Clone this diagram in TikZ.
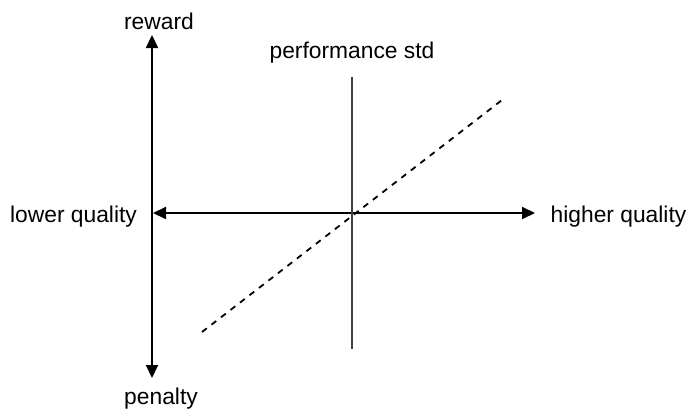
\documentclass[tikz,border=0pt]{standalone}
\usepackage{fontspec}
\setmainfont{Liberation Sans}
\usepackage{tikz}
\usetikzlibrary{arrows.meta, positioning}

\begin{document}
\begin{tikzpicture}[x=0.5pt, y=-0.5pt,
    axis/.style={line width=1pt, {Triangle[length=6.5pt, width=6pt]}-{Triangle[length=6.5pt, width=6pt]}},
    stdline/.style={line width=0.9pt, black!75},
    trend/.style={line width=0.9pt, dash pattern=on 3pt off 3pt},
    lbl/.style={anchor=base, inner sep=0pt, font=\fontsize{11.4}{13}\selectfont}]
  \useasboundingbox (0,0) rectangle (692,412);
  % axis end points
  \coordinate (rtip) at (152,35);
  \coordinate (ptip) at (152,378);
  \coordinate (ltip) at (153,213);
  \coordinate (htip) at (535,213);
  \coordinate (stop) at (352,77);
  \coordinate (sbot) at (352,349);
  \coordinate (dlo) at (202,332);
  \coordinate (dhi) at (502,100);
  % labels
  \node[lbl] (reward) at (159,29) {reward};
  \node[lbl] (penalty) at (161,404) {penalty};
  \node[lbl] (lower) at (73.5,222) {lower quality};
  \node[lbl] (higher) at (618.5,222) {higher quality};
  \node[lbl] (perfstd) at (352,58) {performance std};
  % axes
  \draw[axis] (rtip) -- (ptip);
  \draw[axis] (ltip) -- (htip);
  % performance standard and trend
  \draw[stdline] (stop) -- (sbot);
  \draw[trend] (dlo) -- (dhi);
\end{tikzpicture}
\end{document}
